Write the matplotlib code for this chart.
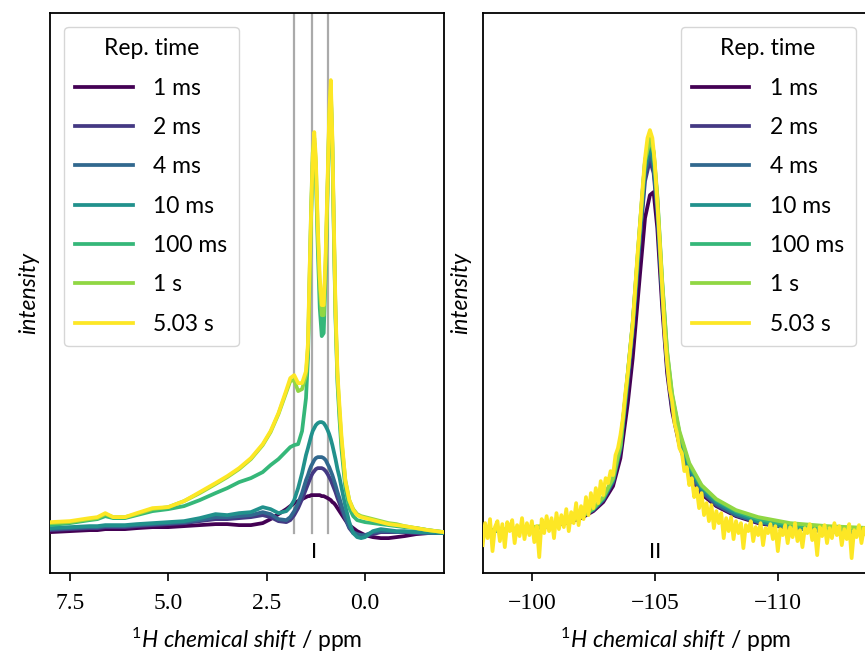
import matplotlib
matplotlib.use("Agg")
import matplotlib.pyplot as plt
import numpy as np

plt.rcParams['font.family'] = ['Lato', 'DejaVu Sans']
plt.rcParams['mathtext.fontset'] = 'custom'
plt.rcParams['mathtext.rm'] = 'Lato'
plt.rcParams['mathtext.it'] = 'Lato:italic'

labels = ["1 ms", "2 ms", "4 ms", "10 ms", "100 ms", "1 s", "5.03 s"]
colors = ["#440154", "#443983", "#31688e", "#21918c", "#35b779", "#90d743", "#fde725"]

# region I (1H signal of the organic part), intensity in arbitrary units
shift_I = [8.0, 7.5, 7.0, 6.8, 6.6, 6.4, 6.1, 5.8, 5.4, 5.0,
           4.6, 4.2, 3.8, 3.5, 3.2, 2.9, 2.6, 2.4, 2.2, 2.0,
           1.9, 1.8, 1.7, 1.6, 1.5, 1.45, 1.41, 1.37, 1.33, 1.29,
           1.25, 1.2, 1.15, 1.1, 1.05, 1.0, 0.95, 0.91, 0.87, 0.83,
           0.79, 0.75, 0.7, 0.65, 0.6, 0.5, 0.4, 0.3, 0.2, 0.1,
           0.0, -0.2, -0.4, -0.6, -0.8, -1.0, -1.3, -1.6, -2.0]
I_1ms = [0.01, 0.02, 0.03, 0.03, 0.04, 0.04, 0.04, 0.05, 0.06, 0.06,
         0.07, 0.08, 0.09, 0.09, 0.08, 0.08, 0.10, 0.14, 0.19, 0.24,
         0.27, 0.30, 0.32, 0.34, 0.36, 0.37, 0.37, 0.38, 0.38, 0.38,
         0.38, 0.38, 0.38, 0.37, 0.37, 0.36, 0.35, 0.34, 0.33, 0.31,
         0.30, 0.28, 0.25, 0.22, 0.19, 0.13, 0.08, 0.05, 0.02, 0.0,
         -0.02, -0.04, -0.05, -0.05, -0.04, -0.03, -0.01, 0.0, 0.0]
I_2ms = [0.03, 0.04, 0.05, 0.05, 0.06, 0.06, 0.06, 0.07, 0.08, 0.09,
         0.10, 0.12, 0.14, 0.14, 0.15, 0.16, 0.18, 0.16, 0.12, 0.11,
         0.13, 0.18, 0.25, 0.34, 0.44, 0.49, 0.53, 0.57, 0.60, 0.62,
         0.64, 0.65, 0.65, 0.65, 0.64, 0.62, 0.59, 0.56, 0.53, 0.49,
         0.45, 0.41, 0.35, 0.30, 0.24, 0.14, 0.05, 0.0, -0.02, -0.03,
         -0.03, -0.01, 0.01, 0.01, 0.01, 0.01, 0.0, 0.0, 0.0]
I_4ms = [0.04, 0.05, 0.06, 0.06, 0.07, 0.07, 0.07, 0.08, 0.09, 0.10,
         0.11, 0.13, 0.16, 0.16, 0.17, 0.18, 0.21, 0.19, 0.14, 0.13,
         0.16, 0.22, 0.30, 0.40, 0.53, 0.58, 0.63, 0.67, 0.70, 0.73,
         0.75, 0.76, 0.76, 0.76, 0.75, 0.73, 0.69, 0.66, 0.62, 0.58,
         0.53, 0.48, 0.41, 0.35, 0.28, 0.16, 0.06, 0.01, -0.01, -0.02,
         -0.02, 0.01, 0.02, 0.02, 0.01, 0.01, 0.01, 0.0, 0.0]
I_10ms = [0.05, 0.06, 0.07, 0.07, 0.08, 0.08, 0.08, 0.09, 0.10, 0.11,
          0.12, 0.15, 0.19, 0.18, 0.20, 0.21, 0.26, 0.24, 0.20, 0.22,
          0.26, 0.33, 0.45, 0.60, 0.78, 0.85, 0.91, 0.97, 1.02, 1.05,
          1.08, 1.10, 1.11, 1.11, 1.10, 1.07, 1.03, 0.99, 0.94, 0.88,
          0.81, 0.74, 0.64, 0.56, 0.46, 0.27, 0.11, 0.0, -0.04, -0.05,
          -0.04, 0.02, 0.04, 0.03, 0.02, 0.02, 0.01, 0.01, 0.0]
I_100ms = [0.08, 0.10, 0.13, 0.14, 0.17, 0.15, 0.15, 0.18, 0.22, 0.24,
           0.27, 0.33, 0.40, 0.45, 0.51, 0.55, 0.61, 0.68, 0.74, 0.82,
           0.86, 0.88, 0.89, 1.02, 1.35, 1.75, 2.45, 3.15, 3.70, 3.90,
           3.60, 2.85, 2.25, 1.97, 2.00, 2.60, 3.45, 4.10, 4.40, 3.85,
           2.95, 2.15, 1.50, 1.15, 0.85, 0.45, 0.25, 0.17, 0.13, 0.12,
           0.11, 0.10, 0.09, 0.08, 0.07, 0.06, 0.05, 0.03, 0.01]
I_1s = [0.10, 0.11, 0.14, 0.15, 0.19, 0.16, 0.16, 0.19, 0.24, 0.26,
        0.32, 0.40, 0.49, 0.56, 0.64, 0.74, 0.88, 1.01, 1.19, 1.41,
        1.52, 1.53, 1.42, 1.44, 1.58, 1.86, 2.55, 3.25, 3.80, 3.95,
        3.70, 3.00, 2.45, 2.18, 2.18, 2.72, 3.50, 4.15, 4.45, 3.90,
        3.00, 2.20, 1.56, 1.22, 0.93, 0.53, 0.33, 0.24, 0.19, 0.17,
        0.16, 0.14, 0.12, 0.10, 0.09, 0.07, 0.05, 0.03, 0.01]
I_5s = [0.11, 0.12, 0.15, 0.16, 0.20, 0.16, 0.16, 0.20, 0.25, 0.26,
        0.32, 0.41, 0.50, 0.57, 0.65, 0.75, 0.89, 1.02, 1.20, 1.43,
        1.55, 1.58, 1.50, 1.50, 1.62, 1.90, 2.60, 3.20, 3.75, 4.01,
        3.75, 3.06, 2.55, 2.28, 2.28, 2.80, 3.55, 4.20, 4.53, 3.95,
        3.06, 2.25, 1.60, 1.28, 0.98, 0.52, 0.33, 0.23, 0.18, 0.16,
        0.15, 0.13, 0.11, 0.09, 0.08, 0.07, 0.05, 0.03, 0.01]

# region II
shift_II = [-98.0, -99.0, -100.0, -100.7, -101.4, -102.0, -102.5, -102.9, -103.3, -103.6,
            -103.9, -104.1, -104.4, -104.6, -104.8, -104.95, -105.1, -105.3, -105.5, -105.7,
            -106.0, -106.4, -106.9, -107.5, -108.3, -109.2, -110.5, -112.0, -113.8]
II_1ms = [0.02, 0.03, 0.05, 0.07, 0.10, 0.15, 0.22, 0.31, 0.47, 0.75,
          1.30, 1.75, 2.60, 3.15, 3.38, 3.41, 3.05, 2.25, 1.60, 1.22,
          0.88, 0.58, 0.39, 0.27, 0.17, 0.10, 0.05, 0.02, 0.0]
II_2ms = [0.02, 0.03, 0.05, 0.07, 0.11, 0.16, 0.23, 0.33, 0.51, 0.83,
          1.50, 2.00, 2.95, 3.52, 3.73, 3.60, 3.20, 2.35, 1.66, 1.26,
          0.90, 0.60, 0.41, 0.28, 0.18, 0.11, 0.05, 0.02, 0.0]
II_4ms = [0.02, 0.03, 0.05, 0.07, 0.11, 0.16, 0.24, 0.34, 0.52, 0.85,
          1.55, 2.05, 3.00, 3.60, 3.80, 3.66, 3.24, 2.38, 1.68, 1.28,
          0.92, 0.62, 0.42, 0.29, 0.18, 0.11, 0.05, 0.02, 0.0]
II_10ms = [0.02, 0.03, 0.05, 0.07, 0.11, 0.16, 0.24, 0.34, 0.53, 0.86,
           1.58, 2.08, 3.05, 3.66, 3.86, 3.72, 3.28, 2.42, 1.72, 1.32,
           0.96, 0.65, 0.45, 0.31, 0.20, 0.12, 0.06, 0.03, 0.01]
II_100ms = [0.02, 0.03, 0.05, 0.07, 0.11, 0.16, 0.24, 0.35, 0.54, 0.87,
            1.60, 2.10, 3.10, 3.72, 3.94, 3.80, 3.35, 2.50, 1.80, 1.38,
            1.00, 0.68, 0.47, 0.33, 0.22, 0.14, 0.08, 0.05, 0.03]
II_1s = [0.03, 0.04, 0.06, 0.08, 0.12, 0.17, 0.25, 0.36, 0.55, 0.88,
         1.60, 2.10, 3.10, 3.72, 3.94, 3.82, 3.38, 2.52, 1.82, 1.40,
         1.02, 0.70, 0.48, 0.34, 0.23, 0.16, 0.10, 0.07, 0.05]
# 5.03 s trace is noisy, sampled every 0.1 ppm from -98.0 to -113.8
shift_II_5s = np.linspace(-98.0, -113.8, 159)
II_5s = [-0.12, 0.10, -0.05, 0.14, -0.18, 0.06, 0.12, -0.08, 0.09, -0.14,
         0.11, 0.02, 0.13, -0.10, 0.08, -0.03, 0.15, -0.06, 0.10, -0.02,
         0.12, -0.09, 0.07, -0.24, 0.14, 0.00, 0.17, 0.02, 0.15, -0.05,
         0.20, 0.04, 0.18, 0.06, 0.24, 0.02, 0.21, 0.10, 0.30, 0.08,
         0.27, 0.14, 0.36, 0.18, 0.40, 0.25, 0.45, 0.30, 0.52, 0.38,
         0.55, 0.50, 0.62, 0.58, 0.78, 0.85, 0.98, 1.15, 1.40, 1.60,
         1.85, 2.10, 2.45, 2.80, 3.10, 3.45, 3.75, 3.95, 4.03, 3.95,
         3.70, 3.30, 2.90, 2.45, 2.00, 1.70, 1.45, 1.32, 1.10, 1.00,
         0.85, 0.80, 0.62, 0.66, 0.48, 0.55, 0.36, 0.45, 0.25, 0.40,
         0.18, 0.30, 0.12, 0.28, 0.05, 0.22, 0.10, 0.20, -0.05, 0.15,
         0.02, 0.16, -0.06, 0.12, 0.00, 0.10, -0.15, 0.08, 0.02, 0.12,
         -0.08, 0.06, -0.02, 0.10, -0.12, 0.05, 0.00, 0.09, -0.06, 0.07,
         -0.18, 0.04, -0.02, 0.08, -0.10, 0.06, -0.04, 0.10, -0.08, 0.03,
         -0.14, 0.05, 0.00, 0.09, -0.07, 0.04, -0.22, 0.06, -0.03, 0.08,
         -0.10, 0.05, -0.05, 0.10, -0.02, 0.07, -0.12, 0.04, -0.06, 0.09,
         -0.25, 0.03, -0.04, 0.08, -0.10, 0.05, -0.02, 0.07, -0.08]

lines_I = [I_1ms, I_2ms, I_4ms, I_10ms, I_100ms, I_1s, I_5s]
lines_II = [II_1ms, II_2ms, II_4ms, II_10ms, II_100ms, II_1s, II_5s]
peaks_I = [1.80, 1.34, 0.93]

fig = plt.figure(figsize=(8.65, 6.55), dpi=100)
ax1 = fig.add_axes([0.058, 0.125, 0.455, 0.855])
ax2 = fig.add_axes([0.558, 0.125, 0.447, 0.855])

ylo, yhi = -0.40, 5.20
for k in range(7):
    ax1.plot(shift_I, lines_I[k], color=colors[k], lw=2.7, label=labels[k], zorder=3)
    xs = shift_II_5s if k == 6 else shift_II
    ax2.plot(xs, lines_II[k], color=colors[k], lw=2.7, label=labels[k], zorder=3)

for p in peaks_I:
    ax1.axvline(p, ymin=(0 - ylo) / (yhi - ylo), color='#aaaaaa', lw=1.6, zorder=1)

ax1.set_xlim(8.0, -2.0)
ax2.set_xlim(-98.0, -113.72)
ax1.set_xticks([7.5, 5.0, 2.5, 0.0])
ax2.set_xticks([-100, -105, -110])

ax1.text(1.3, -0.19, "I", ha='center', va='center', fontsize=16)
ax2.text(-105.0, -0.19, "II", ha='center', va='center', fontsize=16)

for ax in (ax1, ax2):
    ax.set_ylim(ylo, yhi)
    ax.set_yticks([])
    ax.set_ylabel("intensity", fontsize=16.5, fontstyle='italic', labelpad=8)
    ax.set_xlabel(r"$^{\mathrm{1}}H\ chemical\ shift$ / ppm", fontsize=16.5, labelpad=9)
    ax.tick_params(axis='x', labelsize=17, width=1.2, length=6, pad=8)
    for lbl in ax.get_xticklabels():
        lbl.set_fontfamily('Liberation Serif')
    for s in ax.spines.values():
        s.set_linewidth(1.3)

leg_kw = dict(title="Rep. time", fontsize=16.5, title_fontsize=16.5, handlelength=2.5,
              handletextpad=0.9, borderpad=0.5, labelspacing=0.8, borderaxespad=0.6)
ax1.legend(loc='upper left', **leg_kw)
ax2.legend(loc='upper right', **leg_kw)

fig.savefig("out.png", dpi=100)
